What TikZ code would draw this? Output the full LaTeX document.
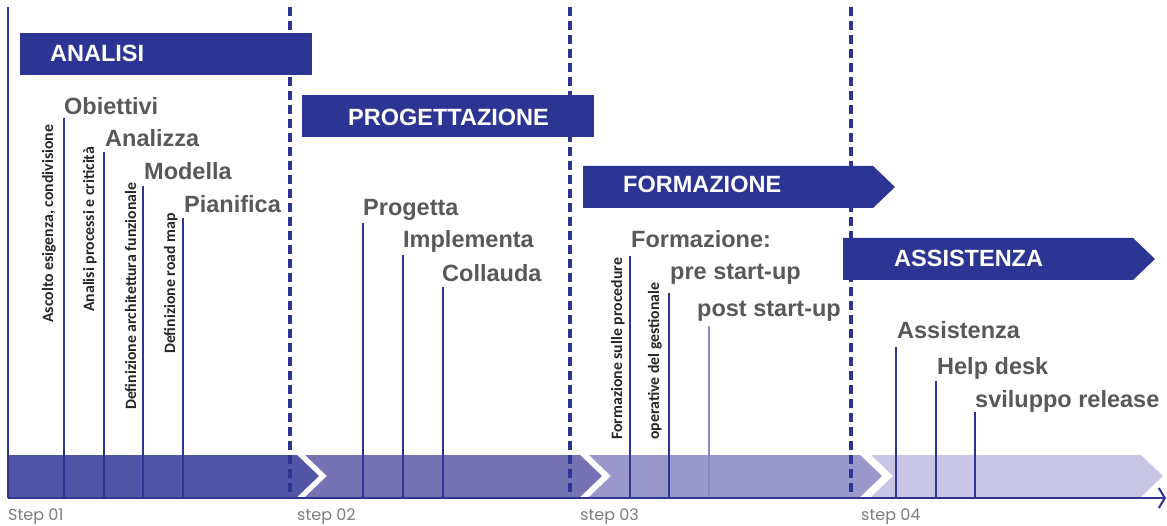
\documentclass[tikz,border=0pt]{standalone}
\usepackage{fontspec}
\setmainfont{Liberation Sans}
\newfontfamily\calibf{Carlito}
\newfontfamily\stepfont{Poppins}
\usetikzlibrary{arrows.meta}
\definecolor{barblue}{RGB}{44,53,147}
\definecolor{axisblue}{RGB}{46,52,148}
\definecolor{segA}{RGB}{81,85,165}
\definecolor{segB}{RGB}{116,114,179}
\definecolor{segC}{RGB}{154,152,202}
\definecolor{segD}{RGB}{200,198,228}
\definecolor{labgray}{RGB}{89,89,89}
\definecolor{stepgray}{RGB}{125,125,125}
\definecolor{rotblack}{RGB}{38,38,38}
\definecolor{paletick}{RGB}{135,135,195}
\tikzset{
  titlebar/.style={fill=barblue, draw=none},
  titletext/.style={anchor=base west, inner sep=0pt, text=white, font=\bfseries\fontsize{23.5}{28}\selectfont},
  phaselabel/.style={anchor=base west, inner sep=0pt, text=labgray, font=\bfseries\fontsize{23.5}{28}\selectfont},
  rotlabel/.style={anchor=base west, inner sep=0pt, rotate=90, text=rotblack, font=\calibf\bfseries\fontsize{15.8}{18}\selectfont},
  steplabel/.style={anchor=base west, inner sep=0pt, text=stepgray, font=\stepfont\fontsize{16}{18}\selectfont},
  tick/.style={draw=axisblue, line width=1.3pt},
  paletickline/.style={draw=paletick, line width=1.3pt},
  phasedivider/.style={draw=barblue, line width=3.4pt, dash pattern=on 9pt off 5pt},
  axisline/.style={draw=axisblue, line width=2.2pt},
}
\begin{document}
\begin{tikzpicture}[x=1pt,y=-1pt]
\useasboundingbox[fill=white] (0,0) rectangle (1167,526);

% bottom band segments
\fill[segA] (8,455) -- (297,455) -- (319,476) -- (297,497) -- (8,497) -- cycle;
\fill[segB] (305,455) -- (580,455) -- (602,476) -- (580,497) -- (305,497) -- (327,476) -- cycle;
\fill[segC] (589,455) -- (860,455) -- (882,476) -- (860,497) -- (589,497) -- (611,476) -- cycle;
\fill[segD] (871,455) -- (1141,455) -- (1163,476) -- (1141,497) -- (871,497) -- (893,476) -- cycle;

% phase dividers
\coordinate (d1t) at (290,7); \coordinate (d1b) at (290,497);
\coordinate (d2t) at (570,7); \coordinate (d2b) at (570,497);
\coordinate (d3t) at (851,7); \coordinate (d3b) at (851,497);
\draw[phasedivider] (d1t) -- (d1b);
\draw[phasedivider] (d2t) -- (d2b);
\draw[phasedivider] (d3t) -- (d3b);

% axes
\coordinate (origin) at (8,498);
\coordinate (ytop) at (8,7);
\coordinate (xend) at (1166,498);
\draw[axisline] (ytop) -- (origin);
\draw[axisline, -{Straight Barb[length=6pt,width=20pt,line width=2pt]}] (origin) -- (xend);

% title bars
\fill[titlebar] (20,33) rectangle (312,75);
\fill[titlebar] (302,95) rectangle (594,137);
\fill[titlebar] (583,166) -- (873,166) -- (895,187) -- (873,208) -- (583,208) -- cycle;
\fill[titlebar] (843,238) -- (1133,238) -- (1155,259) -- (1133,280) -- (843,280) -- cycle;
\node[titletext] (tA) at (50,62) {ANALISI};
\node[titletext] (tP) at (348,126) {PROGETTAZIONE};
\node[titletext] (tF) at (623,193) {FORMAZIONE};
\node[titletext] (tS) at (894,267) {ASSISTENZA};

% phase labels
\node[phaselabel] (l1) at (64,115) {Obiettivi};
\node[phaselabel] (l2) at (105,147) {Analizza};
\node[phaselabel] (l3) at (144,180) {Modella};
\node[phaselabel] (l4) at (184,213) {Pianifica};
\node[phaselabel] (l5) at (363,216) {Progetta};
\node[phaselabel] (l6) at (403,248) {Implementa};
\node[phaselabel] (l7) at (442,282) {Collauda};
\node[phaselabel] (l8) at (631,248) {Formazione:};
\node[phaselabel] (l9) at (670,280) {pre start-up};
\node[phaselabel] (l10) at (697,317) {post start-up};
\node[phaselabel] (l11) at (897,339) {Assistenza};
\node[phaselabel] (l12) at (937,374) {Help desk};
\node[phaselabel] (l13) at (975,407) {sviluppo release};

% rotated descriptions
\node[rotlabel] (r1) at (53,323) {Ascolto esigenza, condivisione};
\node[rotlabel] (r2) at (94,312) {Analisi processi e criticità};
\node[rotlabel] (r3) at (136,410) {Definizione architettura funzionale};
\node[rotlabel] (r4) at (175,354) {Definizione road map};
\node[rotlabel] (r5) at (622,440) {Formazione sulle procedure};
\node[rotlabel] (r6) at (659,440) {operative del gestionale};

% ticks
\foreach \n/\x/\y in {1/64/118, 2/104/152, 3/143/186, 4/183/218, 5/363/223, 6/403/255, 7/443/287, 8/630/256, 9/669/293, 11/896/347, 12/936/381, 13/975/412}{
  \coordinate (k\n t) at (\x,\y);
  \coordinate (k\n b) at (\x,497);
  \draw[tick] (k\n t) -- (k\n b);
}
\coordinate (k10t) at (709,326);
\coordinate (k10b) at (709,497);
\draw[paletickline] (k10t) -- (k10b);

% step labels
\node[steplabel] (s1) at (8,520) {Step 01};
\node[steplabel] (s2) at (297,520) {step 02};
\node[steplabel] (s3) at (580,520) {step 03};
\node[steplabel] (s4) at (861,520) {step 04};
\end{tikzpicture}
\end{document}
